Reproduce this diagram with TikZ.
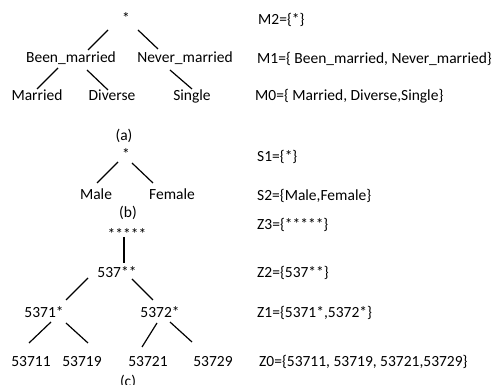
\documentclass[tikz,border=0pt]{standalone}
\usepackage{fontspec}
\setmainfont{Carlito}
\usetikzlibrary{calc}
\begin{document}
\begin{tikzpicture}[x=1pt,y=-1pt,
  lbl/.style={inner sep=0pt,anchor=base,font=\fontsize{15.5}{18}\selectfont},
  setlbl/.style={inner sep=0pt,anchor=base west,font=\fontsize{15.5}{18}\selectfont},
  edge/.style={line width=1.2pt,black}]
\useasboundingbox (0,0) rectangle (499,385);
% tree (a)
\node[lbl] (ra) at (126,24) {*};
\node[lbl] (bm) at (71,63) {Been\_married};
\node[lbl] (nm) at (185,63) {Never\_married};
\node[lbl] (ma) at (37,101) {Married};
\node[lbl] (dv) at (112,101) {Diverse};
\node[lbl] (sg) at (192,101) {Single};
\node[lbl] (capa) at (124,141) {(a)};
\draw[edge] ($(ra.base)+(-18,6)$) -- ($(bm.base)+(17,-13)$);
\draw[edge] ($(ra.base)+(12,6)$) -- ($(nm.base)+(-27,-14)$);
\draw[edge] ($(bm.base)+(-13,5)$) -- ($(ma.base)+(0,-12)$);
\draw[edge] ($(bm.base)+(16,7)$) -- ($(dv.base)+(-4,-11)$);
\draw[edge] ($(nm.base)+(-15,7)$) -- ($(sg.base)+(0,-12)$);
\node[setlbl] (m2) at (258,25) {M2=\{*\}};
\node[setlbl] (m1) at (257,64) {M1=\{ Been\_married, Never\_married\}};
\node[setlbl] (m0) at (255,101) {M0=\{ Married, Diverse,Single\}};
% tree (b)
\node[lbl] (rb) at (126,160) {*};
\node[lbl] (ml) at (96,200) {Male};
\node[lbl] (fm) at (172,200) {Female};
\node[lbl] (capb) at (128,218) {(b)};
\draw[edge] ($(rb.base)+(-8,2)$) -- ($(ml.base)+(1,-17)$);
\draw[edge] ($(rb.base)+(6,3)$) -- ($(fm.base)+(-19,-17)$);
\node[setlbl] (s1) at (257,162) {S1=\{*\}};
\node[setlbl] (s2) at (257,201) {S2=\{Male,Female\}};
% tree (c)
\node[lbl] (z5) at (127,240) {*****};
\node[lbl] (z537) at (117,278) {537**};
\node[lbl] (z5371) at (44,318) {5371*};
\node[lbl] (z5372) at (160,318) {5372*};
\node[lbl] (l1) at (31,367) {53711};
\node[lbl] (l2) at (82,367) {53719};
\node[lbl] (l3) at (148,367) {53721};
\node[lbl] (l4) at (213,367) {53729};
\node[lbl] (capc) at (128,387) {(c)};
\draw[edge] ($(z5.base)+(-3,-3)$) -- ($(z537.base)+(7,-15)$);
\draw[edge] ($(z537.base)+(-29,0)$) -- ($(z5371.base)+(22,-18)$);
\draw[edge] ($(z537.base)+(15,1)$) -- ($(z5372.base)+(-7,-18)$);
\draw[edge] ($(z5371.base)+(7,4)$) -- ($(l1.base)+(-2,-24)$);
\draw[edge] ($(z5371.base)+(22,5)$) -- ($(l2.base)+(6,-24)$);
\draw[edge] ($(z5372.base)+(-3,5)$) -- ($(l3.base)+(-6,-20)$);
\draw[edge] ($(z5372.base)+(10,4)$) -- ($(l4.base)+(-21,-25)$);
\node[setlbl] (zz3) at (257,230) {Z3=\{*****\}};
\node[setlbl] (zz2) at (257,278) {Z2=\{537**\}};
\node[setlbl] (zz1) at (257,318) {Z1=\{5371*,5372*\}};
\node[setlbl] (zz0) at (259,367) {Z0=\{53711, 53719, 53721,53729\}};
\end{tikzpicture}
\end{document}
